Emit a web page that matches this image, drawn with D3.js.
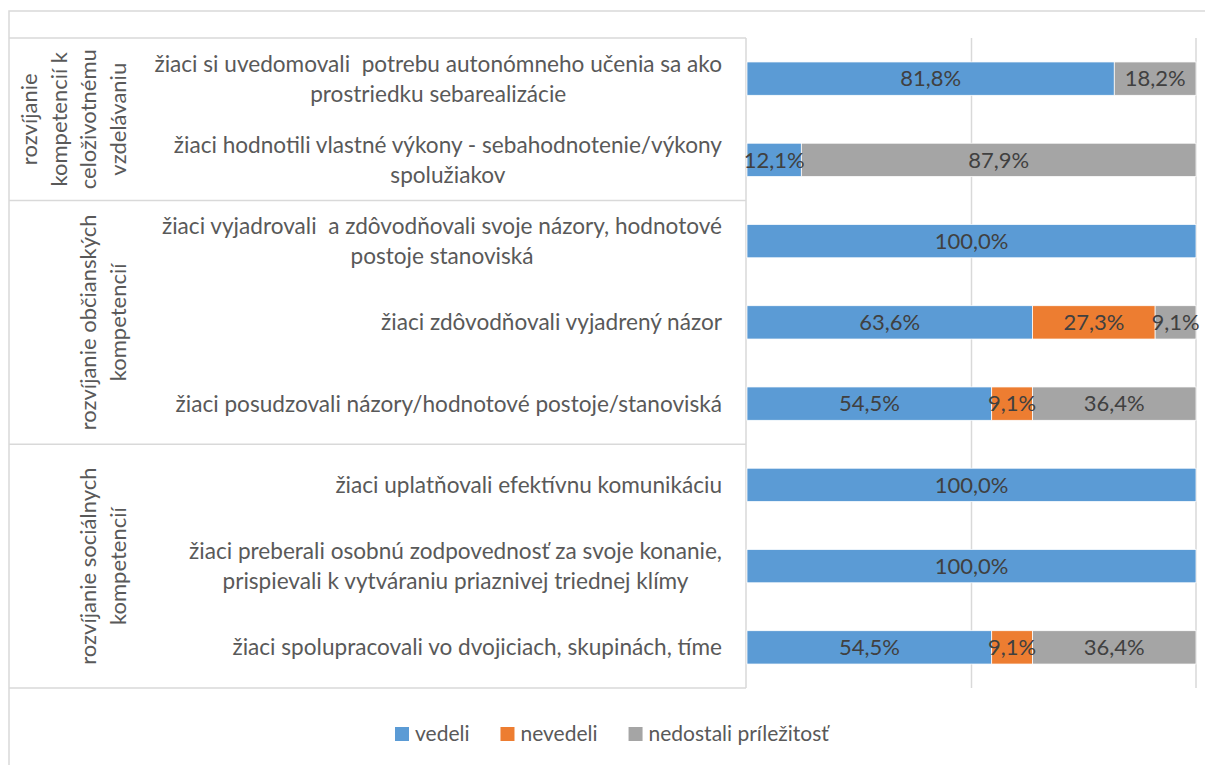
<!DOCTYPE html>
<html>
<head>
<meta charset="utf-8">
<script src="https://cdn.jsdelivr.net/npm/d3@7"></script>
<style>
  html, body { margin: 0; padding: 0; background: #fff; }
  svg { display: block; font-family: Lato, "Open Sans", sans-serif; }
  text { white-space: pre; }
</style>
</head>
<body>
<svg id="chart" width="1205" height="765"></svg>
<script>
// ── Data ─────────────────────────────────────────────────────────
const groupLabels = [
  ['rozvíjanie', 'kompetencií k', 'celoživotnému', 'vzdelávaniu'],
  ['rozvíjanie občianských', 'kompetencií'],
  ['rozvíjanie sociálnych', 'kompetencií'],
];
const groupSizes = [2, 3, 3];

const itemLabels = [
  ['žiaci si uvedomovali  potrebu autonómneho učenia sa ako', 'prostriedku sebarealizácie'],
  ['žiaci hodnotili vlastné výkony - sebahodnotenie/výkony', 'spolužiakov'],
  ['žiaci vyjadrovali  a zdôvodňovali svoje názory, hodnotové', 'postoje stanoviská'],
  ['žiaci zdôvodňovali vyjadrený názor'],
  ['žiaci posudzovali názory/hodnotové postoje/stanoviská'],
  ['žiaci uplatňovali efektívnu komunikáciu'],
  ['žiaci preberali osobnú zodpovednosť za svoje konanie,', 'prispievali k vytváraniu priaznivej triednej klímy'],
  ['žiaci spolupracovali vo dvojiciach, skupinách, tíme'],
];

const seriesNames = ['vedeli', 'nevedeli', 'nedostali príležitosť'];
const seriesColors = ['#5b9bd5', '#ed7d31', '#a5a5a5'];
const vedeli    = [81.8, 12.1, 100, 63.6, 54.5, 100, 100, 54.5];
const nevedeli  = [0, 0, 0, 27.3, 9.1, 0, 0, 9.1];
const nedostali = [18.2, 87.9, 0, 9.1, 36.4, 0, 0, 36.4];

// ── Layout ───────────────────────────────────────────────────────
const svg = d3.select('#chart');
const LINE = '#d9d9d9';
const plotTop = 38, plotBottom = 688;
const boxLeft = 9, boxRight = 746;
const labelRight = 722;
const fsItem = 22.6, fsGroup = 22, fsData = 22, fsLegend = 21;

const rows = vedeli.map((v, i) => ({ i, [seriesNames[0]]: v, [seriesNames[1]]: nevedeli[i], [seriesNames[2]]: nedostali[i] }));

const y = d3.scaleBand().domain(d3.range(rows.length)).range([plotTop, plotBottom]);
const x = d3.scaleLinear().domain([0, 100]).range([747, 1196]);
const barH = y.bandwidth() * 0.41;

// outer frame (right/bottom fall outside the picture)
svg.append('rect')
  .attr('x', boxLeft).attr('y', 11)
  .attr('width', 1220).attr('height', 780)
  .attr('fill', 'none').attr('stroke', LINE).attr('stroke-width', 1.5);

// gridlines
svg.append('g').selectAll('line')
  .data([50, 100])
  .join('line')
  .attr('x1', d => x(d)).attr('x2', d => x(d))
  .attr('y1', plotTop).attr('y2', plotBottom)
  .attr('stroke', LINE).attr('stroke-width', 1.5);

// ── Category table ───────────────────────────────────────────────
const bounds = [0];
groupSizes.forEach(n => bounds.push(bounds[bounds.length - 1] + n));
const edgeY = k => k < rows.length ? y(k) : plotBottom;

svg.append('g').selectAll('line')
  .data(bounds)
  .join('line')
  .attr('x1', boxLeft).attr('x2', boxRight)
  .attr('y1', d => edgeY(d)).attr('y2', d => edgeY(d))
  .attr('stroke', LINE).attr('stroke-width', 1.5);

svg.append('line')
  .attr('x1', boxRight).attr('x2', boxRight)
  .attr('y1', plotTop).attr('y2', plotBottom)
  .attr('stroke', LINE).attr('stroke-width', 1.5);

// group labels, rotated; last line sits at the same x for each group
const groupG = svg.append('g');
groupLabels.forEach((lines, g) => {
  const cy = (edgeY(bounds[g]) + edgeY(bounds[g + 1])) / 2;
  const t = groupG.append('text')
    .attr('transform', `translate(0,${cy}) rotate(-90)`)
    .attr('text-anchor', 'middle')
    .attr('fill', '#595959')
    .attr('font-size', fsGroup);
  lines.forEach((ln, j) => {
    const cx = 118 - (lines.length - 1 - j) * 29.5;
    t.append('tspan').attr('x', 0).attr('y', cx + fsGroup * 0.35).text(ln);
  });
});

// item labels: lines centred on each other, block right-aligned
const itemG = svg.append('g');
itemLabels.forEach((lines, i) => {
  const cy = y(i) + y.bandwidth() / 2;
  const t = itemG.append('text')
    .attr('fill', '#595959')
    .attr('font-size', fsItem)
    .attr('text-anchor', 'middle');
  const spans = lines.map((ln, j) => t.append('tspan')
    .attr('y', cy + (j - (lines.length - 1) / 2) * 30 + fsItem * 0.35)
    .text(ln));
  const w = d3.max(spans, s => s.node().getComputedTextLength());
  spans.forEach(s => s.attr('x', labelRight - w / 2));
});

// ── Bars ─────────────────────────────────────────────────────────
const stacked = d3.stack().keys(seriesNames)(rows);

const barG = svg.append('g');
stacked.forEach((layer, k) => {
  barG.append('g')
    .attr('fill', seriesColors[k])
    .selectAll('rect')
    .data(layer)
    .join('rect')
    .attr('x', d => x(d[0]))
    .attr('width', d => x(d[1]) - x(d[0]))
    .attr('y', (d, i) => y(i) + (y.bandwidth() - barH) / 2)
    .attr('height', barH)
    .attr('stroke', '#fff')
    .attr('stroke-width', 0.75);
});

// data labels
const fmt = v => v.toFixed(1).replace('.', ',') + '%';
stacked.forEach(layer => {
  barG.append('g').selectAll('text')
    .data(layer.filter(d => d[1] - d[0] > 0))
    .join('text')
    .attr('x', d => x((d[0] + d[1]) / 2))
    .attr('y', d => y(d.data.i) + y.bandwidth() / 2 + fsData * 0.35)
    .attr('text-anchor', 'middle')
    .attr('fill', '#404040')
    .attr('font-size', fsData)
    .text(d => fmt(d[1] - d[0]));
});

// ── Legend ───────────────────────────────────────────────────────
const legend = svg.append('g').attr('transform', 'translate(395,734)');
let lx = 0;
seriesNames.forEach((name, k) => {
  legend.append('rect')
    .attr('x', lx).attr('y', -7)
    .attr('width', 14).attr('height', 14)
    .attr('fill', seriesColors[k]);
  const t = legend.append('text')
    .attr('x', lx + 20).attr('y', fsLegend * 0.35)
    .attr('fill', '#595959')
    .attr('font-size', fsLegend)
    .text(name);
  lx += 20 + t.node().getComputedTextLength() + 31;
});
</script>
</body>
</html>
